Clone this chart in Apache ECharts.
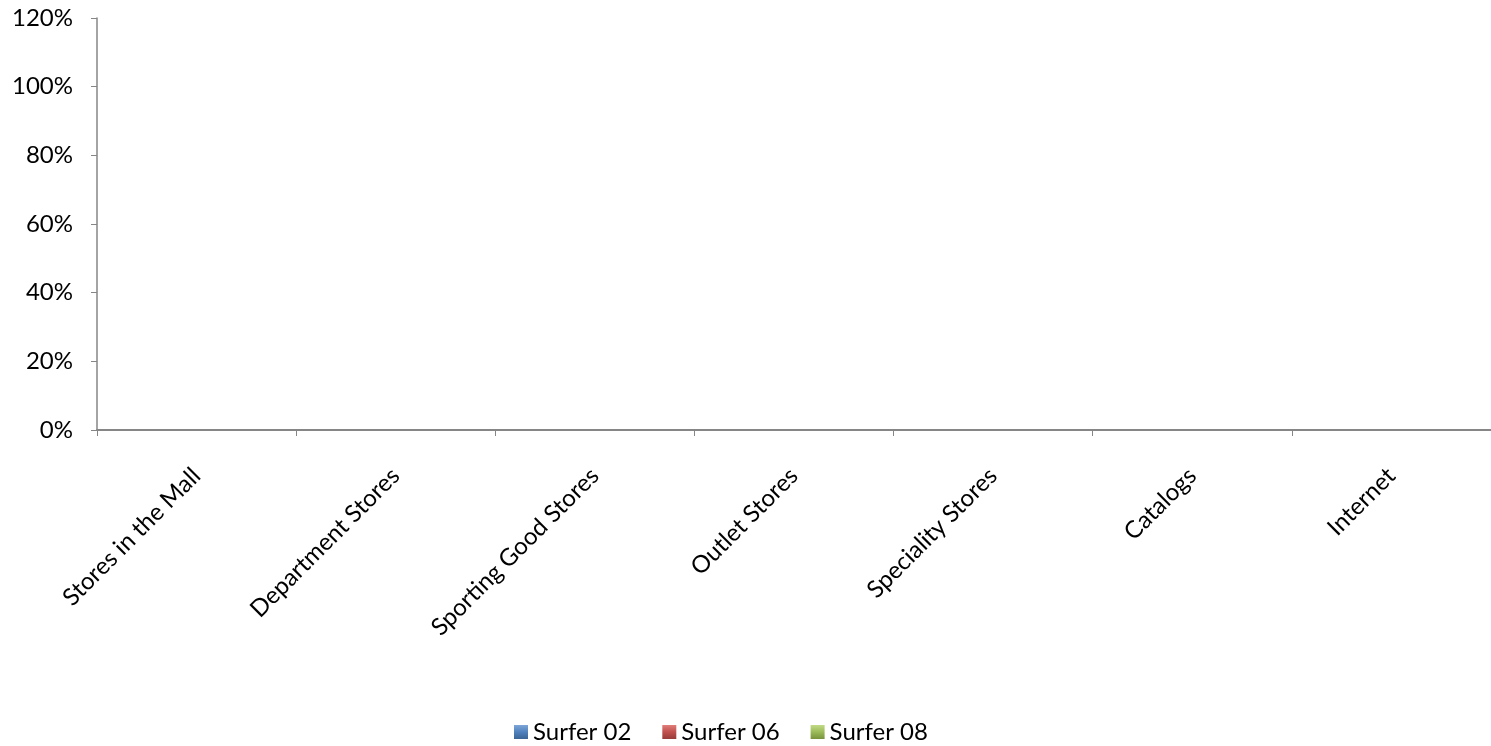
<!DOCTYPE html>
<html>
<head>
<meta charset="utf-8">
<script src="https://cdn.jsdelivr.net/npm/echarts@6/dist/echarts.min.js"></script>
<style>
  html, body { margin: 0; padding: 0; background: #ffffff; }
  #chart { width: 1491px; height: 746px; }
</style>
</head>
<body>
<div id="chart"></div>
<script>
// Where surfers shop, share of respondents per channel
const categories = [
  'Stores in the Mall',
  'Department Stores',
  'Sporting Good Stores',
  'Outlet Stores',
  'Speciality Stores',
  'Catalogs',
  'Internet'
];
const surfer02 = [0, 0, 0, 0, 0, 0, 0];
const surfer06 = [0, 0, 0, 0, 0, 0, 0];
const surfer08 = [0, 0, 0, 0, 0, 0, 0];
const seriesNames = ['Surfer 02', 'Surfer 06', 'Surfer 08'];

const FONT = 'Lato, "Open Sans", sans-serif';
const FONT_SIZE = 24;
const AXIS_GRAY = '#868686';

function boxFill(light, base, dark) {
  return {
    type: 'linear', x: 0, y: 0, x2: 0, y2: 1,
    colorStops: [
      { offset: 0, color: light },
      { offset: 0.5, color: base },
      { offset: 1, color: dark }
    ]
  };
}

const fills = [
  boxFill('#7FA6D8', '#4F81BD', '#3A6495'),
  boxFill('#E07D7A', '#C0504D', '#963C3A'),
  boxFill('#C2DA86', '#9BBB59', '#77933C')
];

const chart = echarts.init(document.getElementById('chart'), null, { renderer: 'canvas' });

chart.setOption({
  animation: false,
  backgroundColor: '#ffffff',
  textStyle: { fontFamily: FONT },
  grid: { left: 97, top: 18, width: 1400, height: 412, containLabel: false },
  legend: {
    bottom: -3,
    left: 509,
    icon: 'rect',
    itemWidth: 14,
    itemHeight: 14,
    itemGap: 31,
    textStyle: { fontFamily: FONT, fontSize: FONT_SIZE, color: '#000000' },
    data: seriesNames
  },
  xAxis: {
    type: 'category',
    data: categories,
    boundaryGap: true,
    axisLine: { lineStyle: { color: AXIS_GRAY, width: 2 } },
    axisTick: { show: true, alignWithLabel: false, length: 6, lineStyle: { color: AXIS_GRAY, width: 1 } },
    axisLabel: {
      interval: 0,
      rotate: 45,
      margin: 42,
      fontFamily: FONT,
      fontSize: FONT_SIZE,
      color: '#000000'
    },
    splitLine: { show: false }
  },
  yAxis: {
    type: 'value',
    min: 0,
    max: 1.2,
    interval: 0.2,
    axisLine: { show: true, lineStyle: { color: AXIS_GRAY, width: 1.5 } },
    axisTick: { show: true, length: 6, lineStyle: { color: AXIS_GRAY, width: 1 } },
    axisLabel: {
      margin: 24,
      fontFamily: FONT,
      fontSize: FONT_SIZE,
      color: '#000000',
      formatter: v => Math.round(v * 100) + '%'
    },
    splitLine: { show: false }
  },
  series: [
    { name: seriesNames[0], type: 'bar', data: surfer02, itemStyle: { color: fills[0] } },
    { name: seriesNames[1], type: 'bar', data: surfer06, itemStyle: { color: fills[1] } },
    { name: seriesNames[2], type: 'bar', data: surfer08, itemStyle: { color: fills[2] } }
  ]
});
</script>
</body>
</html>
